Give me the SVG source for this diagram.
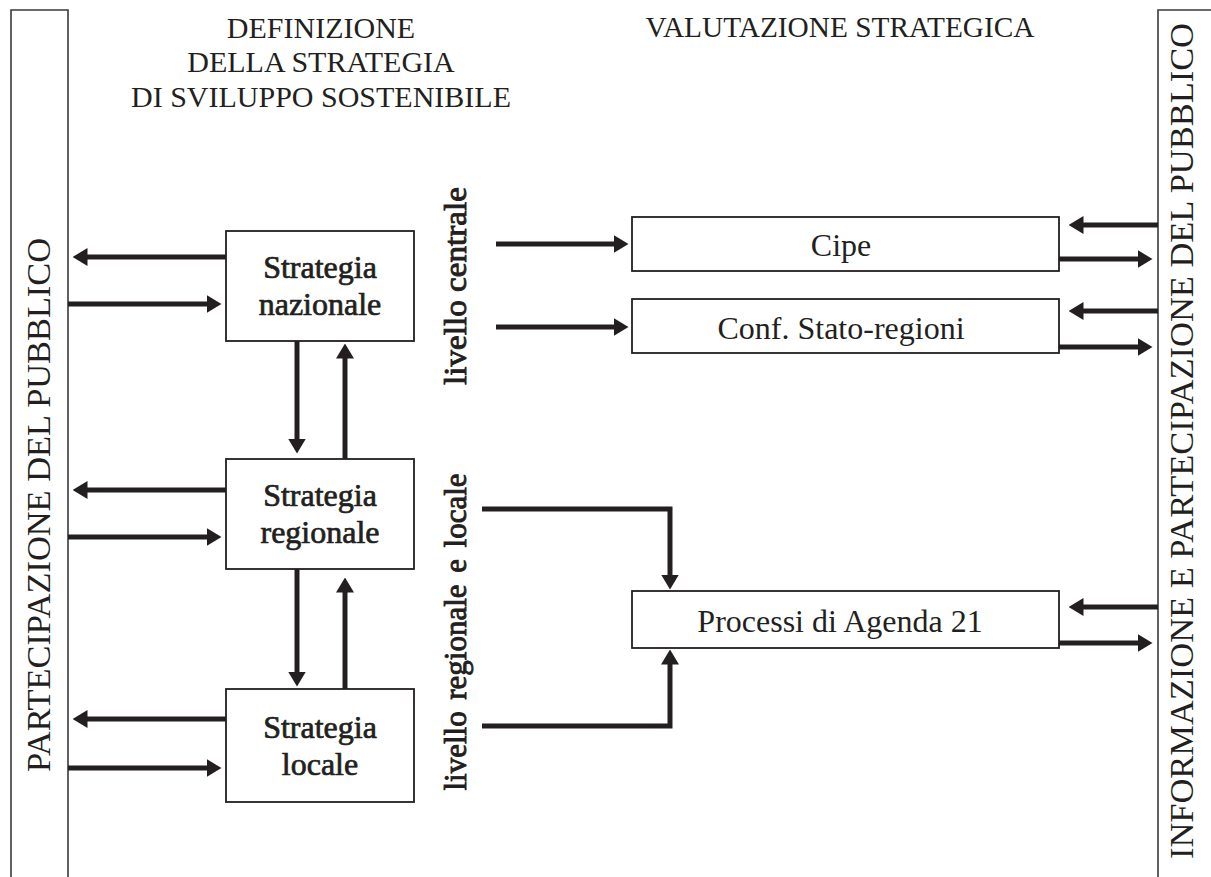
<svg xmlns="http://www.w3.org/2000/svg" width="1211" height="877" viewBox="0 0 1211 877">
<style>
  .frame { fill: none; stroke: #3a3a3a; stroke-width: 1.6; }
  .box { fill: #ffffff; stroke: #231f20; stroke-width: 1.8; }
  .conn { fill: none; stroke: #231f20; stroke-width: 5; stroke-linejoin: miter; }
  .t { font-family: "Liberation Serif", "Times New Roman", serif; fill: #231f20; }
  .head { font-size: 30px; text-anchor: middle; }
  .side { font-size: 34px; text-anchor: middle; }
  .strat { font-size: 32px; text-anchor: middle; stroke: #231f20; stroke-width: 0.7; }
  .eval { font-size: 32px; text-anchor: middle; }
  .lvl { font-size: 32px; text-anchor: middle; stroke: #231f20; stroke-width: 0.9; }
</style>
<defs>
  <marker id="ah" markerUnits="userSpaceOnUse" markerWidth="15" markerHeight="18" viewBox="0 0 15 18" refX="0.5" refY="9" orient="auto">
    <path d="M0,0 L15,9 L0,18 Z" fill="#231f20"/>
  </marker>
</defs>
<rect width="1211" height="877" fill="#ffffff"/>

<g id="left-bar">
  <path class="frame" d="M11,880 V10 H68 V880"/>
  <text class="t side" transform="translate(50,505) rotate(-90)" textLength="534" lengthAdjust="spacingAndGlyphs">PARTECIPAZIONE DEL PUBBLICO</text>
</g>

<g id="right-bar">
  <path class="frame" d="M1158,880 V10 H1215"/>
  <text class="t side" transform="translate(1193,441) rotate(-90)" textLength="836" lengthAdjust="spacingAndGlyphs">INFORMAZIONE E PARTECIPAZIONE DEL PUBBLICO</text>
</g>

<g id="title-definizione">
  <text class="t head" x="321" y="38">DEFINIZIONE</text>
  <text class="t head" x="321" y="72">DELLA STRATEGIA</text>
  <text class="t head" x="321" y="107">DI SVILUPPO SOSTENIBILE</text>
</g>

<g id="title-valutazione">
  <text class="t head" x="840" y="37" textLength="389" lengthAdjust="spacingAndGlyphs">VALUTAZIONE STRATEGICA</text>
</g>

<g id="label-livello-centrale">
  <text class="t lvl" transform="translate(466,286) rotate(-90)" textLength="198" lengthAdjust="spacingAndGlyphs">livello centrale</text>
</g>

<g id="label-livello-regionale">
  <text class="t lvl" transform="translate(466,632) rotate(-90)" style="word-spacing:4px" textLength="317" lengthAdjust="spacingAndGlyphs">livello regionale e locale</text>
</g>

<g id="strategia-nazionale">
  <rect class="box" x="226" y="231" width="188" height="110"/>
  <text class="t strat" x="320" y="278">Strategia</text>
  <text class="t strat" x="320" y="315">nazionale</text>
</g>

<g id="strategia-regionale">
  <rect class="box" x="226" y="459" width="188" height="110"/>
  <text class="t strat" x="320" y="506">Strategia</text>
  <text class="t strat" x="320" y="543">regionale</text>
</g>

<g id="strategia-locale">
  <rect class="box" x="226" y="689" width="188" height="113"/>
  <text class="t strat" x="320" y="738">Strategia</text>
  <text class="t strat" x="320" y="775">locale</text>
</g>

<g id="cipe">
  <rect class="box" x="632" y="217" width="427" height="54"/>
  <text class="t eval" x="841" y="256">Cipe</text>
</g>

<g id="conf-stato-regioni">
  <rect class="box" x="632" y="299" width="427" height="54"/>
  <text class="t eval" x="841" y="339">Conf. Stato-regioni</text>
</g>

<g id="processi-agenda21">
  <rect class="box" x="632" y="591" width="427" height="57"/>
  <text class="t eval" x="840" y="632">Processi di Agenda 21</text>
</g>

<g id="connectors">
  <path class="conn" d="M226,257 H87" marker-end="url(#ah)"/>
  <path class="conn" d="M68,304 H207" marker-end="url(#ah)"/>
  <path class="conn" d="M226,490 H87" marker-end="url(#ah)"/>
  <path class="conn" d="M68,537 H207" marker-end="url(#ah)"/>
  <path class="conn" d="M226,719 H87" marker-end="url(#ah)"/>
  <path class="conn" d="M68,768 H207" marker-end="url(#ah)"/>

  <path class="conn" d="M297,341 V439" marker-end="url(#ah)"/>
  <path class="conn" d="M345,459 V358" marker-end="url(#ah)"/>
  <path class="conn" d="M297,569 V672" marker-end="url(#ah)"/>
  <path class="conn" d="M345,689 V592" marker-end="url(#ah)"/>

  <path class="conn" d="M496,244 H614" marker-end="url(#ah)"/>
  <path class="conn" d="M496,327 H614" marker-end="url(#ah)"/>
  <path class="conn" d="M482,509 H670 V575" marker-end="url(#ah)"/>
  <path class="conn" d="M482,726 H670 V664" marker-end="url(#ah)"/>

  <path class="conn" d="M1158,225 H1083" marker-end="url(#ah)"/>
  <path class="conn" d="M1059,259 H1138" marker-end="url(#ah)"/>
  <path class="conn" d="M1158,311 H1083" marker-end="url(#ah)"/>
  <path class="conn" d="M1059,347 H1138" marker-end="url(#ah)"/>
  <path class="conn" d="M1158,607 H1083" marker-end="url(#ah)"/>
  <path class="conn" d="M1059,643 H1138" marker-end="url(#ah)"/>
</g>
</svg>
